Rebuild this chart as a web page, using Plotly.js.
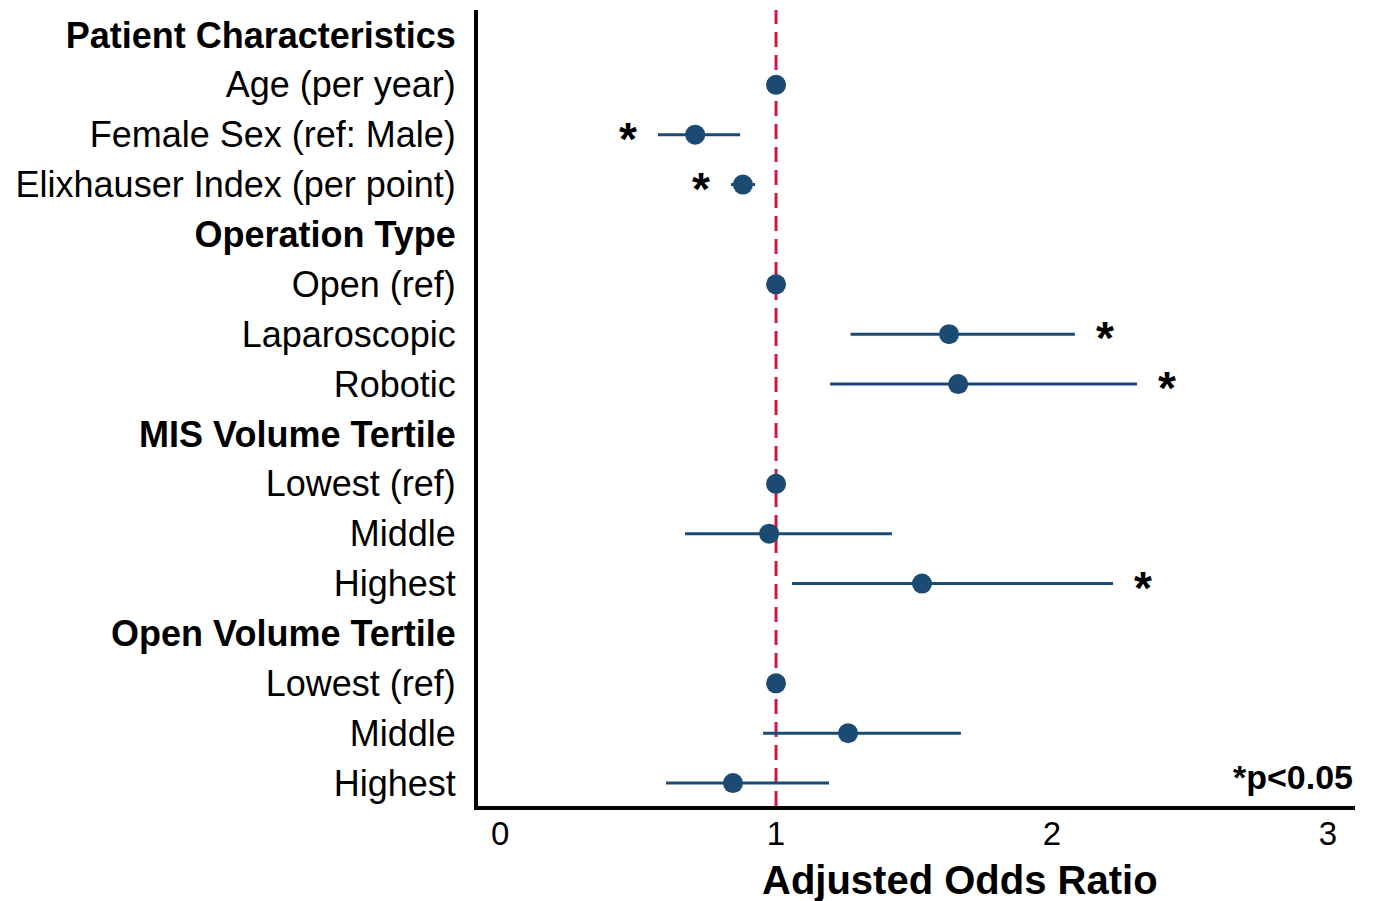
<!DOCTYPE html>
<html>
<head>
<meta charset="utf-8">
<script src="https://cdn.plot.ly/plotly-3.0.1.min.js"></script>
<style>html,body{margin:0;padding:0;background:#fff;}#chart{width:1375px;height:901px;}</style>
</head>
<body>
<div id="chart"></div>
<script>
// ---- data ----
const labels = ["Patient Characteristics", "Age (per year)", "Female Sex (ref: Male)", "Elixhauser Index (per point)",
  "Operation Type", "Open (ref)", "Laparoscopic", "Robotic",
  "MIS Volume Tertile", "Lowest (ref)", "Middle", "Highest",
  "Open Volume Tertile", "Lowest (ref)", "Middle", "Highest"];
const isHeader = [true, false, false, false, true, false, false, false, true, false, false, false, true, false, false, false];
const oddsRatio = [null, 1.00, 0.707, 0.880, null, 1.00, 1.627, 1.660, null, 1.00, 0.975, 1.529, null, 1.00, 1.261, 0.844];
const ciLow  = [null, 1.00, 0.572, 0.837, null, 1.00, 1.270, 1.196, null, 1.00, 0.670, 1.058, null, 1.00, 0.953, 0.601];
const ciHigh = [null, 1.00, 0.870, 0.924, null, 1.00, 2.083, 2.308, null, 1.00, 1.420, 2.221, null, 1.00, 1.670, 1.192];
// significance marker side: -1 = star left of CI, +1 = right of CI, 0 = none
const sigSide = [0, 0, -1, -1, 0, 0, 1, 1, 0, 0, 0, 1, 0, 0, 0, 0];
const xTicks = [0, 1, 2, 3];
const refValue = 1;

// ---- build ----
const rows = labels.map((_, i) => i);
const ticktext = labels.map((l, i) => isHeader[i] ? "<b>" + l + "</b>" : l);
const plus = oddsRatio.map((v, i) => v === null ? null : ciHigh[i] - v);
const minus = oddsRatio.map((v, i) => v === null ? null : v - ciLow[i]);

const navy = "#1b4a73";
const font = "Liberation Sans, Arial, sans-serif";

const trace = {
  type: "scatter", mode: "markers",
  x: oddsRatio, y: rows,
  marker: {size: 20, color: navy},
  error_x: {type: "data", symmetric: false, array: plus, arrayminus: minus,
            width: 0, thickness: 3, color: navy},
  hoverinfo: "x+y", showlegend: false, cliponaxis: false
};

const annotations = [];
sigSide.forEach((s, i) => {
  if (s === 0) return;
  annotations.push({
    x: s < 0 ? ciLow[i] : ciHigh[i], y: i, xref: "x", yref: "y",
    text: "<b>*</b>", showarrow: false, xanchor: "center", yanchor: "middle",
    xshift: s * 30, yshift: -4,
    font: {family: font, size: 46, color: "#000"}
  });
});
annotations.push({
  x: 1, y: 0.0365, xref: "paper", yref: "paper",
  text: "<b>*p<0.05</b>", showarrow: false, xanchor: "right", yanchor: "middle",
  font: {family: font, size: 34, color: "#000"}
});
annotations.push({
  x: 0.5496, y: -0.093, xref: "paper", yref: "paper",
  text: "<b>Adjusted Odds Ratio</b>", showarrow: false, xanchor: "center", yanchor: "middle",
  font: {family: font, size: 40, color: "#000"}
});

const layout = {
  width: 1375, height: 901,
  margin: {l: 478, r: 20, t: 10, b: 95},
  paper_bgcolor: "#fff", plot_bgcolor: "#fff",
  font: {family: font, color: "#000"},
  xaxis: {
    range: [-0.08, 3.098], tickvals: xTicks, ticktext: xTicks.map(String),
    showgrid: false, zeroline: false, ticks: "", ticklen: 0,
    showline: true, linewidth: 4, linecolor: "#000",
    tickfont: {family: font, size: 33, color: "#000"}, ticklabelstandoff: -5
  },
  yaxis: {
    range: [15.46, -0.5], tickvals: rows, ticktext: ticktext,
    showgrid: false, zeroline: false, ticks: "", ticklen: 0,
    showline: true, linewidth: 4, linecolor: "#000",
    tickfont: {family: font, size: 36, color: "#000"}, ticklabelstandoff: 11
  },
  shapes: [{
    type: "line", xref: "x", yref: "paper", x0: refValue, x1: refValue, y0: 0, y1: 1,
    line: {color: "#cc1844", width: 3, dash: "15px,8px"}, layer: "below"
  }],
  annotations: annotations
};

Plotly.newPlot("chart", [trace], layout, {displayModeBar: false, staticPlot: true});
</script>
</body>
</html>
